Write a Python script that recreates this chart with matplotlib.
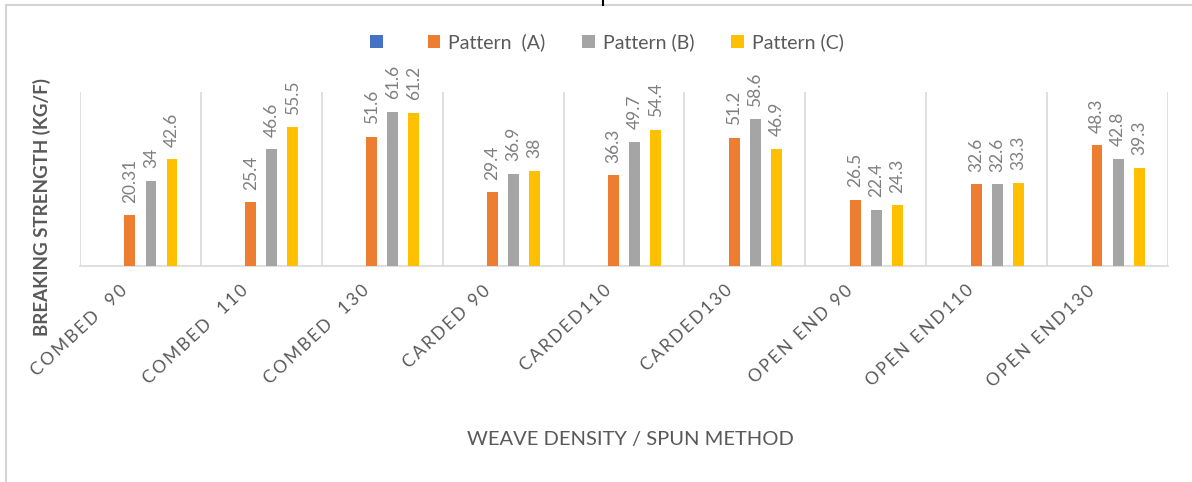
import matplotlib
matplotlib.use("Agg")
import matplotlib.pyplot as plt
from matplotlib.patches import Rectangle
from matplotlib.lines import Line2D
import numpy as np

plt.rcParams['font.family'] = ['Lato', 'DejaVu Sans']

categories = ["COMBED  90", "COMBED  110", "COMBED  130", "CARDED 90", "CARDED110",
              "CARDED130", "OPEN END 90", "OPEN END110", "OPEN END130"]
series_names = ["", "Pattern  (A)", "Pattern (B)", "Pattern (C)"]
blank = [0, 0, 0, 0, 0, 0, 0, 0, 0]
pattern_a = [20.31, 25.4, 51.6, 29.4, 36.3, 51.2, 26.5, 32.6, 48.3]
pattern_b = [34, 46.6, 61.6, 36.9, 49.7, 58.6, 22.4, 32.6, 42.8]
pattern_c = [42.6, 55.5, 61.2, 38, 54.4, 46.9, 24.3, 33.3, 39.3]
colors = ["#4472C4", "#ED7D31", "#A5A5A5", "#FFC000"]

W, H = 1192, 482
fig = plt.figure(figsize=(W / 100, H / 100), dpi=100)

# outer frame
fig.patches.append(Rectangle((6 / W, -0.01), 1.02, 1 - 5 / H + 0.01, transform=fig.transFigure,
                             fill=False, edgecolor="#d4d4d4", linewidth=1.5))
fig.add_artist(Line2D([603 / W, 603 / W], [1 - 5 / H, 1.0], transform=fig.transFigure,
                      color="black", linewidth=1.5))

ax = fig.add_axes([80 / W, 1 - 266 / H, (1168 - 80) / W, (266 - 92) / H])

x = np.arange(len(categories))
slot = 0.174
bw = 0.09
all_series = [blank, pattern_a, pattern_b, pattern_c]
handles = []
for k, (vals, col, name) in enumerate(zip(all_series, colors, series_names)):
    xs = x + (k - 1.5) * slot
    bars = ax.bar(xs, vals, width=bw, color=col, label=name, zorder=3)
    handles.append(bars)
    if k > 0:
        for xi, v in zip(xs, vals):
            ax.annotate(f"{v:g}", xy=(xi, v), xytext=(0, 9), textcoords="offset points",
                        rotation=90, ha="center", va="bottom", fontsize=12.5,
                        color="#7f7f7f", annotation_clip=False)

ax.set_xlim(-0.5, len(categories) - 0.5)
ax.set_ylim(0, 69.5)
ax.set_yticks([])
ax.set_xticks(x)
ax.set_xticklabels([])
ax.tick_params(axis="x", length=0)
ax.set_xticks(np.arange(-0.5, len(categories), 1), minor=True)
ax.tick_params(axis="x", which="minor", length=0)
ax.grid(axis="x", which="minor", color="#d9d9d9", linewidth=1.2, zorder=0)
for s in ["top", "left", "right"]:
    ax.spines[s].set_visible(False)
ax.spines["bottom"].set_color("#d9d9d9")
ax.spines["bottom"].set_linewidth(1.2)

thin = "\u2009"
for xi, lab in zip(x, categories):
    spaced = thin.join(list(lab))
    ax.annotate(spaced, xy=(xi, 0), xycoords=("data", "axes fraction"),
                xytext=(-11, -16), textcoords="offset points", rotation=43,
                ha="right", va="center", rotation_mode="anchor", fontsize=12.5,
                color="#595959", annotation_clip=False)

fig.text(42 / W, 1 - 207 / H, "BREAKING STRENGTH (KG/F)", rotation=90, ha="center",
         va="center", fontsize=13.5, color="#595959", fontweight="bold")
fig.text(630 / W, 1 - 440 / H, "WEAVE DENSITY / SPUN METHOD", ha="center", va="center",
         fontsize=14.5, color="#595959")

fig.legend(handles=handles, labels=series_names, loc="center", bbox_to_anchor=(607 / W, 1 - 42 / H),
           ncol=4, frameon=False, fontsize=14, labelcolor="#595959", handlelength=0.65,
           handleheight=0.65, handletextpad=0.4, columnspacing=1.9)

fig.savefig("out.png", dpi=100)
